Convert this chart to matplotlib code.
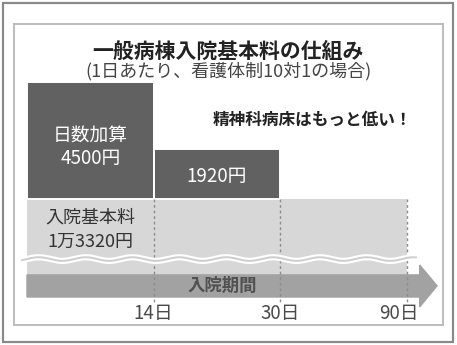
import numpy as np
import matplotlib.pyplot as plt
from matplotlib.patches import Rectangle, Polygon

plt.rcParams['font.family'] = ['Noto Sans CJK JP', 'DejaVu Sans']

# 入院期間の区切り（日）と各区間の加算額（円）
periods = ["14日", "30日", "90日"]
addon_labels = ["日数加算", ""]
addon_fees = [4500, 1920]
base_label = "入院基本料"
base_fee = 13320

DARK = "#616161"
LIGHT = "#d7d7d7"
ARROW = "#a2a2a2"

fig = plt.figure(figsize=(4.57, 3.45), dpi=100)

# 外枠
fig.patches.append(Rectangle((3 / 457, 3 / 345), 450 / 457, 339 / 345,
                             transform=fig.transFigure, fill=False,
                             edgecolor="#8a8a8a", linewidth=1.6))

ax = fig.add_axes([14 / 457, 20 / 345, 429 / 457, 301 / 345])
ax.set_xlim(-0.1026, 3.284)
ax.set_ylim(-4846, 6731)
ax.set_xticks([])
ax.set_yticks([])
for s in ax.spines.values():
    s.set_color("#b8b8b8")
    s.set_linewidth(1.3)

arrow_top = -2920
arrow_bottom = -3770
n = len(periods)

# 入院基本料（下部は省略して表示）
base = ax.bar(n / 2, base_fee, width=n, bottom=-base_fee, color=LIGHT,
              edgecolor="none", zorder=1)
clip = Rectangle((-1, arrow_top), n + 2, 20000, transform=ax.transData)
for b in base:
    b.set_clip_path(clip)

# 日数加算
x = np.arange(len(addon_fees)) + 0.5
ax.bar(x, addon_fees, width=1, color=DARK, edgecolor="white",
       linewidth=1.4, zorder=2)

# 入院期間の矢印
head_x = n + 0.1
tip_x = n + 0.237
arrow = Polygon([(0, arrow_top), (head_x, arrow_top), (head_x, -2540),
                 (tip_x, -3340), (head_x, -4150), (head_x, arrow_bottom),
                 (0, arrow_bottom)], closed=True, color=ARROW,
                edgecolor="none", zorder=3)
ax.add_patch(arrow)
ax.text(1.54, -3360, "入院期間", ha="center", va="center", fontsize=12.5,
        color="#505050", fontweight="bold", zorder=5)

# 区切りの点線
for i in range(1, n + 1):
    ax.plot([i, i], [0, -3950], color="#8c8c8c", linewidth=1,
            linestyle=(0, (2, 2)), zorder=4)

# 省略の波線
wx = np.linspace(-0.04, n + 0.07, 400)
wy = -2310 + 70 * np.sin(2 * np.pi * wx / 0.37)
ax.plot(wx, wy, color="white", linewidth=4.5, zorder=4)
ax.plot(wx, wy, color="#cdcdcd", linewidth=1.4, zorder=4)

# ラベル
ax.text(0.5, 2470, addon_labels[0], ha="center", va="center",
        fontsize=13.5, color="white", zorder=5)
ax.text(0.5, 1570, f"{addon_fees[0]}円", ha="center", va="center",
        fontsize=13.5, color="white", zorder=5)
ax.text(1.5, 850, f"{addon_fees[1]}円", ha="center", va="center",
        fontsize=13.5, color="white", zorder=5)
ax.text(0.5, -730, base_label, ha="center", va="center",
        fontsize=13, color="#333333", zorder=5)
ax.text(0.5, -1650, f"{base_fee // 10000}万{base_fee % 10000}円",
        ha="center", va="center", fontsize=13, color="#333333", zorder=5)
ax.text(2.25, 3040, "精神科病床はもっと低い！", ha="center", va="center",
        fontsize=12, fontweight="bold", color="#222222", zorder=5)

for i, lab in enumerate(periods, start=1):
    if i == n:
        ax.text(i + 0.09, -4420, lab, ha="right", va="center",
                fontsize=13.5, color="#4a4a4a")
    else:
        ax.text(i, -4420, lab, ha="center", va="center",
                fontsize=13.5, color="#4a4a4a")

fig.text(0.499, 0.852, "一般病棟入院基本料の仕組み", ha="center",
         va="center", fontsize=15, fontweight="bold", color="#222222")
fig.text(0.499, 0.794, "(1日あたり、看護体制10対1の場合)", ha="center",
         va="center", fontsize=13, color="#444444")

fig.savefig("out.png", dpi=100)
